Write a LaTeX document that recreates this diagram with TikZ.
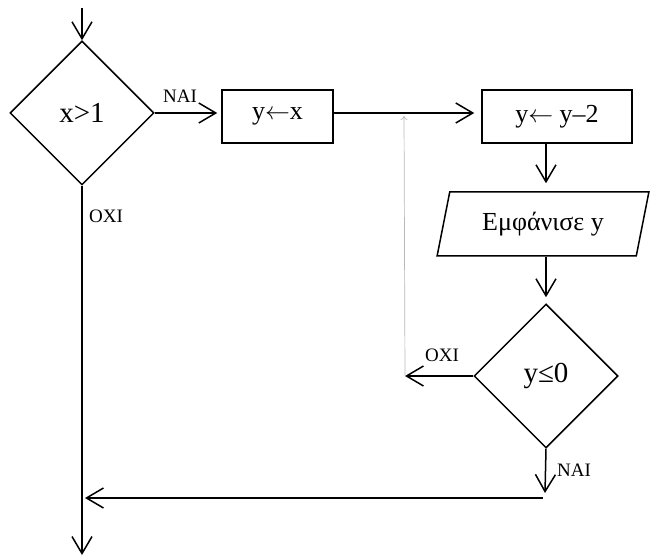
\documentclass[tikz,border=0pt]{standalone}
\usepackage{fontspec}
\setmainfont{Liberation Serif}
\usetikzlibrary{shapes.geometric,arrows.meta}

\tikzset{
  flow/.style={line width=1.5pt,-{Straight Barb[length=17pt,width=20pt,line width=1.5pt]}},
  decision/.style={diamond,draw,line width=1.5pt,inner sep=0pt,minimum width=144pt,minimum height=144pt,font=\fontsize{29}{33}\selectfont},
  procbox/.style={rectangle,draw,line width=1.5pt,minimum height=53pt,font=\fontsize{26}{30}\selectfont},
  iobox/.style={trapezium,trapezium left angle=71,trapezium right angle=109,trapezium stretches=true,draw,line width=1.5pt,inner sep=0pt,minimum width=212pt,minimum height=64pt,font=\fontsize{26}{30}\selectfont},
  lbl/.style={inner sep=0pt,font=\fontsize{19}{22}\selectfont}
}

\begin{document}
\begin{tikzpicture}[x=1pt,y=-1pt]

\useasboundingbox (0,0) rectangle (651,556);

% shapes
\node [decision] (d1) at (82,113) {x>1};
\node [procbox,minimum width=111pt] (b1) at (277.5,116.5) {y$\leftarrow$x};
\node [procbox,minimum width=150pt] (b2) at (557,116.5) {y$\leftarrow$ y–2};
\node [iobox] (io) at (543,224) {Εμφάνισε y};
\node [decision] (d2) at (546,376) {y≤0};

% free ends
\coordinate (start) at (82,8);
\coordinate (col) at (546,0);
\coordinate (back) at (405,376);
\coordinate (join) at (404,113);
\coordinate (low) at (545,493);
\coordinate (ret) at (543,498);
\coordinate (finish) at (82,555);

% connectors
\draw [flow] (start) -- (d1.north);
\draw [flow,shorten >=4pt] (d1.east) -- (d1.east -| b1.west);
\draw [flow,shorten >=7pt] (d1.east -| b1.east) -- (d1.east -| b2.west);
\draw [flow,shorten >=8pt] (col |- b2.south) -- (col |- io.north);
\draw [flow,shorten >=6pt] (col |- io.south) -- (d2.north);
\draw [flow] (d2.west) -- (back);
\draw [gray!55,line width=0.7pt,-{To[length=4pt,width=7pt]},shorten >=3pt] (back) -- (join);
\draw [flow] (d2.south) -- (low);
\draw [flow,shorten >=3pt] (ret) -- (d1 |- ret);
\draw [flow] (d1.south) -- (finish);

% labels
\node [lbl] (yes1) at (180,96) {NAI};
\node [lbl] (no1) at (106,216) {OXI};
\node [lbl] (no2) at (442,355) {OXI};
\node [lbl] (yes2) at (574,470) {NAI};

\end{tikzpicture}
\end{document}
